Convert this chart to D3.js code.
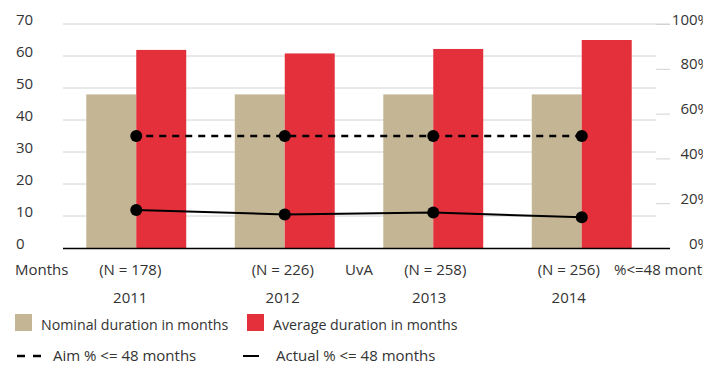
<!DOCTYPE html>
<html>
<head>
<meta charset="utf-8">
<script src="https://cdn.jsdelivr.net/npm/d3@7"></script>
<style>
  html, body { margin: 0; padding: 0; background: #fff; }
  svg { display: block; font-family: "Open Sans", sans-serif; }
  text { fill: #333; font-size: 15px; }
  text.swatch-label { font-size: 14.2px; }
</style>
</head>
<body>
<svg id="chart" width="703" height="365"></svg>
<script>
// Study duration per cohort year
const years = ["2011", "2012", "2013", "2014"];
const cohortSizes = ["(N = 178)", "(N = 226)", "(N = 258)", "(N = 256)"];
const nominalMonths = [48, 48, 48, 48];
const averageMonths = [61.9, 60.8, 62.2, 65];
const aimPct = [50, 50, 50, 50];
const actualPct = [17, 15, 15.8, 13.7];
const monthTicks = [0, 10, 20, 30, 40, 50, 60, 70];
const pctTicks = [0, 20, 40, 60, 80, 100];

const colors = { nominal: "#c4b594", average: "#e3303a", grid: "#d2d2d2", ink: "#000" };

const svg = d3.select("#chart");
const plotLeft = 62, plotRight = 656, plotTop = 24, plotBottom = 248;

const x = d3.scaleBand().domain(years).range([plotLeft, plotRight])
  .paddingInner(0.327).paddingOuter(0.1635);
const y = d3.scaleLinear().domain([0, 70]).range([plotBottom, plotTop]);
const yPct = d3.scaleLinear().domain([0, 100]).range([plotBottom, plotTop]);
const half = x.bandwidth() / 2;
const center = d => x(d) + half;

// Horizontal gridlines (left scale)
svg.append("g")
  .selectAll("line").data(monthTicks.filter(t => t > 0)).join("line")
  .attr("x1", plotLeft + 1).attr("x2", d => d === 70 ? plotRight + 14 : plotRight)
  .attr("y1", d => y(d)).attr("y2", d => y(d))
  .attr("stroke", colors.grid).attr("stroke-width", 1);

// Left axis labels
const leftAxis = svg.append("g")
  .attr("transform", `translate(${plotLeft},0)`)
  .call(d3.axisLeft(y).tickValues(monthTicks).tickSize(0).tickFormat(d3.format("d")));
leftAxis.select(".domain").remove();
leftAxis.selectAll("text")
  .attr("x", 16 - plotLeft).attr("dy", "0em").attr("text-anchor", "start")
  .attr("fill", "#333");
leftAxis.attr("font-family", null).attr("font-size", null);

// Right axis: short ticks and percentage labels (running off the right edge)
const rightAxis = svg.append("g")
  .attr("transform", `translate(${plotRight},0)`)
  .call(d3.axisRight(yPct).tickValues(pctTicks).tickSize(14).tickFormat(d => d + "%"));
rightAxis.select(".domain").remove();
rightAxis.selectAll("line").attr("stroke", colors.grid);
rightAxis.selectAll("text")
  .attr("x", 54).attr("dy", "0em").attr("text-anchor", "end")
  .attr("fill", "#333");
rightAxis.attr("font-family", null).attr("font-size", null);

// Bars
const bars = svg.append("g");
bars.selectAll("rect.nominal").data(years).join("rect")
  .attr("class", "nominal")
  .attr("x", d => x(d)).attr("width", half)
  .attr("y", (d, i) => y(nominalMonths[i]))
  .attr("height", (d, i) => plotBottom - y(nominalMonths[i]))
  .attr("fill", colors.nominal);
bars.selectAll("rect.average").data(years).join("rect")
  .attr("class", "average")
  .attr("x", d => x(d) + half).attr("width", half)
  .attr("y", (d, i) => y(averageMonths[i]))
  .attr("height", (d, i) => plotBottom - y(averageMonths[i]))
  .attr("fill", colors.average);

// Baseline
svg.append("line")
  .attr("x1", plotLeft + 1).attr("x2", plotRight + 14)
  .attr("y1", plotBottom + 0.5).attr("y2", plotBottom + 0.5)
  .attr("stroke", colors.ink).attr("stroke-width", 1.5);

// Percentage lines
const line = d3.line().x((d, i) => center(years[i])).y(d => yPct(d));
svg.append("path").datum(aimPct)
  .attr("d", line).attr("fill", "none")
  .attr("stroke", colors.ink).attr("stroke-width", 2.6)
  .attr("stroke-dasharray", "7,6").attr("stroke-dashoffset", -10);
svg.append("path").datum(actualPct)
  .attr("d", line).attr("fill", "none")
  .attr("stroke", colors.ink).attr("stroke-width", 2);

[aimPct, actualPct].forEach(series => {
  svg.append("g").selectAll("circle").data(series).join("circle")
    .attr("cx", (d, i) => center(years[i]))
    .attr("cy", d => yPct(d))
    .attr("r", 6).attr("fill", colors.ink);
});

// Category labels under the axis
const labelNudge = [-6, -2, 2, -13];
const yearNudge = [-6, -2, -4, -13];
svg.append("g").selectAll("text").data(cohortSizes).join("text")
  .attr("x", (d, i) => center(years[i]) + labelNudge[i])
  .attr("y", 275).attr("text-anchor", "middle").text(d => d);
svg.append("g").selectAll("text").data(years).join("text")
  .attr("x", (d, i) => center(d) + yearNudge[i])
  .attr("y", 303).attr("text-anchor", "middle").text(d => d);

svg.append("text").attr("x", 15).attr("y", 275).text("Months");
svg.append("text").attr("x", 345).attr("y", 275).text("UvA");
svg.append("text").attr("x", 614).attr("y", 275).text("%<=48 months");

// Legend
const legend = svg.append("g");
legend.append("rect").attr("x", 15).attr("y", 314).attr("width", 17).attr("height", 17)
  .attr("fill", colors.nominal);
legend.append("text").attr("class", "swatch-label").attr("x", 41).attr("y", 330)
  .text("Nominal duration in months");
legend.append("rect").attr("x", 247).attr("y", 314).attr("width", 17).attr("height", 17)
  .attr("fill", colors.average);
legend.append("text").attr("class", "swatch-label").attr("x", 273).attr("y", 330)
  .text("Average duration in months");

legend.append("line").attr("x1", 17).attr("x2", 41).attr("y1", 356).attr("y2", 356)
  .attr("stroke", colors.ink).attr("stroke-width", 2.6).attr("stroke-dasharray", "8,8");
legend.append("text").attr("x", 53).attr("y", 361).text("Aim % <= 48 months");
legend.append("line").attr("x1", 243).attr("x2", 259).attr("y1", 356).attr("y2", 356)
  .attr("stroke", colors.ink).attr("stroke-width", 2);
legend.append("text").attr("x", 276).attr("y", 361).text("Actual % <= 48 months");
</script>
</body>
</html>
